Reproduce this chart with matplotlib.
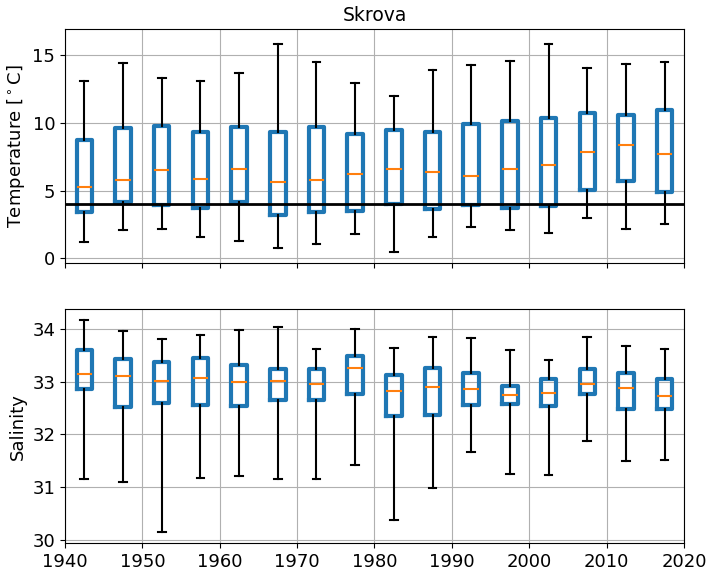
import matplotlib
matplotlib.use("Agg")
import matplotlib.pyplot as plt

# five-year bins, box drawn at bin centre
years = [1942.5, 1947.5, 1952.5, 1957.5, 1962.5, 1967.5, 1972.5, 1977.5,
         1982.5, 1987.5, 1992.5, 1997.5, 2002.5, 2007.5, 2012.5, 2017.5]

# temperature statistics [deg C]
temp_low = [1.18, 2.09, 2.19, 1.57, 1.30, 0.74, 1.03, 1.82,
            0.49, 1.57, 2.34, 2.09, 1.89, 2.98, 2.19, 2.51]
temp_q1 = [3.42, 4.18, 3.93, 3.69, 4.13, 3.20, 3.44, 3.49,
           4.00, 3.61, 3.93, 3.71, 3.86, 5.02, 5.70, 4.89]
temp_med = [5.28, 5.78, 6.52, 5.85, 6.61, 5.63, 5.78, 6.22,
            6.59, 6.37, 6.07, 6.59, 6.89, 7.84, 8.36, 7.70]
temp_q3 = [8.73, 9.59, 9.76, 9.30, 9.66, 9.30, 9.71, 9.20,
           9.49, 9.30, 9.89, 10.16, 10.33, 10.74, 10.57, 10.94]
temp_high = [13.08, 14.39, 13.28, 13.11, 13.67, 15.81, 14.48, 12.93,
             11.95, 13.87, 14.26, 14.56, 15.81, 14.04, 14.31, 14.46]

# salinity statistics
sal_low = [31.15, 31.10, 30.16, 31.18, 31.21, 31.16, 31.16, 31.43,
           30.38, 30.98, 31.67, 31.25, 31.24, 31.87, 31.49, 31.51]
sal_q1 = [32.86, 32.52, 32.59, 32.55, 32.53, 32.65, 32.65, 32.76,
          32.35, 32.36, 32.56, 32.57, 32.53, 32.76, 32.48, 32.48]
sal_med = [33.14, 33.10, 33.02, 33.06, 32.99, 33.02, 32.96, 33.26,
           32.83, 32.89, 32.87, 32.74, 32.78, 32.96, 32.88, 32.72]
sal_q3 = [33.59, 33.42, 33.37, 33.44, 33.32, 33.23, 33.23, 33.48,
          33.12, 33.26, 33.17, 32.92, 33.05, 33.24, 33.16, 33.05]
sal_high = [34.17, 33.96, 33.80, 33.89, 33.97, 34.04, 33.61, 34.00,
            33.63, 33.85, 33.82, 33.60, 33.41, 33.84, 33.67, 33.61]

threshold = 4.0


def _stats(low, q1, med, q3, high):
    return [{"whislo": a, "q1": b, "med": c, "q3": d, "whishi": e, "fliers": []}
            for a, b, c, d, e in zip(low, q1, med, q3, high)]


def _draw(ax, stats):
    ax.bxp(stats, positions=years, widths=2.0, showfliers=False,
           boxprops={"color": "#1f77b4", "linewidth": 3.0},
           whiskerprops={"color": "black", "linewidth": 1.5},
           capprops={"color": "black", "linewidth": 1.5},
           medianprops={"color": "#ff7f0e", "linewidth": 1.5})
    ax.grid(True, color="#b0b0b0", linewidth=0.8)
    ax.set_axisbelow(True)


plt.rcParams["font.size"] = 13
fig = plt.figure(figsize=(7.09, 5.72), dpi=100)
ax1 = fig.add_axes([0.0917, 0.5407, 0.873, 0.4081])
ax2 = fig.add_axes([0.0917, 0.0502, 0.873, 0.4091], sharex=ax1)

_draw(ax1, _stats(temp_low, temp_q1, temp_med, temp_q3, temp_high))
ax1.axhline(threshold, color="black", linewidth=2, zorder=4)
ax1.set_ylim(-0.33, 16.9)
ax1.set_yticks([0, 5, 10, 15])
ax1.set_ylabel(r"Temperature [$^\circ$C]")
ax1.set_title("Skrova", fontsize=13.5)
ax1.tick_params(labelbottom=False)

_draw(ax2, _stats(sal_low, sal_q1, sal_med, sal_q3, sal_high))
ax2.set_ylim(29.94, 34.37)
ax2.set_yticks([30, 31, 32, 33, 34])
ax2.set_ylabel("Salinity")

ax2.set_xlim(1940, 2020)
ax2.set_xticks(range(1940, 2021, 10))
ax2.set_xticklabels([str(y) for y in range(1940, 2021, 10)])

fig.savefig("out.png", dpi=100)
